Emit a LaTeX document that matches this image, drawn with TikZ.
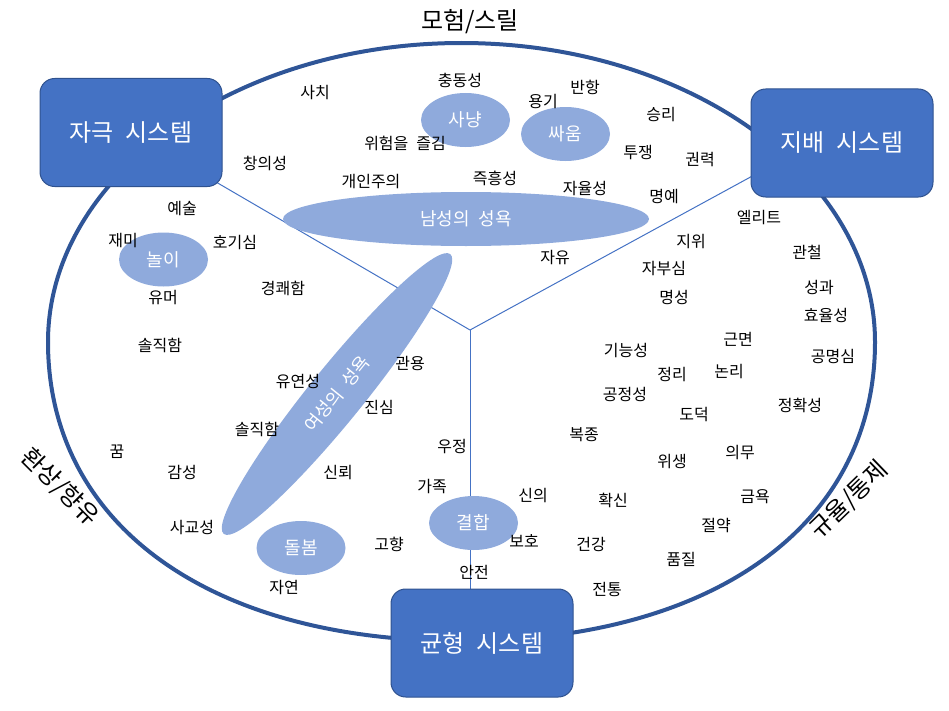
\documentclass[tikz,border=0pt]{standalone}
\usepackage{fontspec}
\setmainfont[WordSpace=2.2]{Noto Sans CJK KR}
\usetikzlibrary{shapes.geometric,calc}
\definecolor{boxfill}{HTML}{4472C4}
\definecolor{boxdraw}{HTML}{2F528F}
\definecolor{blobfill}{HTML}{8FAADC}
\definecolor{ringcol}{HTML}{2F5597}
\pgfdeclarelayer{bg}
\pgfsetlayers{bg,main}
\begin{document}
\begin{tikzpicture}[x=0.75pt,y=-0.75pt,
  sysbox/.style={draw=boxdraw, line width=0.75pt, fill=boxfill, rounded corners=11pt,
    minimum width=182*0.75pt, minimum height=108*0.75pt, text=white,
    font=\fontsize{18}{21}\selectfont, inner sep=0pt},
  blob/.style={ellipse, fill=blobfill, draw=none, text=white,
    font=\fontsize{13.5}{16}\selectfont, inner sep=0pt,
    minimum width=89*0.75pt, minimum height=54*0.75pt},
  lbl/.style={font=\fontsize{12}{14}\selectfont, inner sep=0pt, text=black},
  theme/.style={font=\fontsize{18}{21}\selectfont, inner sep=0pt, text=black},
  ring/.style={draw=ringcol, line width=3pt},
  spoke/.style={draw=boxfill, line width=0.75pt}]
\useasboundingbox (0,0) rectangle (949,710);

% system boxes
\node[sysbox] (jageuk) at (131,132.5) {자극 시스템};
\node[sysbox] (jibae) at (842,143) {지배 시스템};
\node[sysbox] (gyunhyeong) at (482,643) {균형 시스템};

\coordinate (hub) at (470,330);

\begin{pgfonlayer}{bg}
\draw[ring] (48,342) .. controls (48,177.2) and (233.2,43) .. (461.5,43)
  .. controls (689.8,43) and (875,177.2) .. (875,342)
  .. controls (875,524.4) and (713.7,641) .. (461.5,641)
  .. controls (209.3,641) and (48,524.4) .. (48,342) -- cycle;
\draw[spoke] (hub) -- (jageuk.center);
\draw[spoke] (hub) -- ($(jibae.west)+(29,18.2)$);
\draw[spoke] (hub) -- (hub |- gyunhyeong.center);
\end{pgfonlayer}

% ellipses
\node[blob] (sanyang) at (465.5,120) {사냥};
\node[blob] (ssaum) at (565.5,134) {싸움};
\node[blob, minimum width=366*0.75pt] (namseong) at (466,219) {남성의 성욕};
\node[blob] (nori) at (163.5,259.5) {놀이};
\node[blob] (dolbom) at (301,548) {돌봄};
\node[blob] (gyeolhap) at (473.5,523) {결합};
\node[blob, rotate=51, minimum width=360*0.75pt] (yeoseong) at (337,394) {여성의 성욕};

% themes
\node[theme] (adv) at (470,22) {모험/스릴};
\node[theme, rotate=-45] (fant) at (60,487) {환상/향유};
\node[theme, rotate=44] (disc) at (849,500) {규율/통제};

% labels
\node[lbl] (t01) at (315,93) {사치};
\node[lbl] (t02) at (460,80) {충동성};
\node[lbl] (t03) at (585,87) {반항};
\node[lbl] (t04) at (543,102) {용기};
\node[lbl] (t05) at (661,115) {승리};
\node[lbl] (t06) at (405,143) {위험을 즐김};
\node[lbl] (t07) at (638,153) {투쟁};
\node[lbl] (t08) at (700,160) {권력};
\node[lbl] (t09) at (265,163) {창의성};
\node[lbl] (t10) at (371,182) {개인주의};
\node[lbl] (t11) at (495,178) {즉흥성};
\node[lbl] (t12) at (585,189) {자율성};
\node[lbl] (t13) at (664,197) {명예};
\node[lbl] (t14) at (182,209) {예술};
\node[lbl] (t15) at (759,218) {엘리트};
\node[lbl] (t16) at (123,241) {재미};
\node[lbl] (t17) at (235,243) {호기심};
\node[lbl] (t18) at (691,242) {지위};
\node[lbl] (t19) at (807,252) {관철};
\node[lbl] (t20) at (555,258) {자유};
\node[lbl] (t21) at (664,269) {자부심};
\node[lbl] (t22) at (283,288) {경쾌함};
\node[lbl] (t23) at (819,288) {성과};
\node[lbl] (t24) at (674,297) {명성};
\node[lbl] (t25) at (163,298) {유머};
\node[lbl] (t26) at (826,315) {효율성};
\node[lbl] (t27) at (738,339) {근면};
\node[lbl] (t28) at (160,345) {솔직함};
\node[lbl] (t29) at (626,351) {기능성};
\node[lbl] (t30) at (833,356) {공명심};
\node[lbl] (t31) at (410,363) {관용};
\node[lbl] (t32) at (672,375) {정리};
\node[lbl] (t33) at (729,372) {논리};
\node[lbl] (t34) at (298,382) {유연성};
\node[lbl] (t35) at (625,394) {공정성};
\node[lbl] (t36) at (800,405) {정확성};
\node[lbl] (t37) at (379,407) {진심};
\node[lbl] (t38) at (694,415) {도덕};
\node[lbl] (t39) at (257,429) {솔직함};
\node[lbl] (t40) at (584,435) {복종};
\node[lbl] (t41) at (452,447) {우정};
\node[lbl] (t42) at (117,452) {꿈};
\node[lbl] (t43) at (740,453) {의무};
\node[lbl] (t44) at (672,462) {위생};
\node[lbl] (t45) at (182,472) {감성};
\node[lbl] (t46) at (338,473) {신뢰};
\node[lbl] (t47) at (432,487) {가족};
\node[lbl] (t48) at (533,496) {신의};
\node[lbl] (t49) at (613,500) {확신};
\node[lbl] (t50) at (755,497) {금욕};
\node[lbl] (t51) at (192,528) {사교성};
\node[lbl] (t52) at (716,526) {절약};
\node[lbl] (t53) at (524,541) {보호};
\node[lbl] (t54) at (389,544) {고향};
\node[lbl] (t55) at (591,544) {건강};
\node[lbl] (t56) at (681,559) {품질};
\node[lbl] (t57) at (474,572) {안전};
\node[lbl] (t58) at (284,588) {자연};
\node[lbl] (t59) at (607,589) {전통};
\end{tikzpicture}
\end{document}
